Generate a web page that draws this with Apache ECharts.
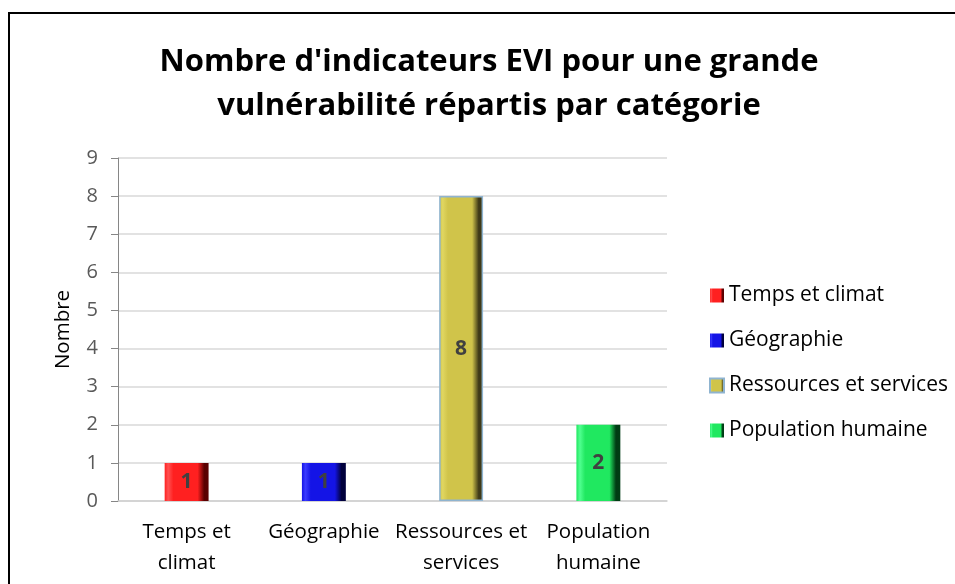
<!DOCTYPE html>
<html style="height: 100%">

<head>
    <meta charset="utf-8">
</head>

<body style="height: 100%; margin: 0; background: #fff">
    <div id="container" style="width: 955px; height: 584px"></div>
    <script src="https://cdn.jsdelivr.net/npm/echarts@6/dist/echarts.min.js"></script>
    <script type="text/javascript">
        // data
        var categories = ['Temps et\nclimat', 'Géographie', 'Ressources et\nservices', 'Population\nhumaine'];
        var seriesNames = ['Temps et climat', 'Géographie', 'Ressources et services', 'Population humaine'];
        var values = [1, 1, 8, 2];
        var yTicks = { min: 0, max: 9, interval: 1 };

        var FONT = 'Open Sans';

        // couleurs (clair, principal, sombre)
        var palettes = [
            ['#ff5050', '#ff2020', '#5a0000'],
            ['#3a3aff', '#1414e6', '#00003c'],
            ['#e0d660', '#d0c44a', '#3f3a18'],
            ['#50ff90', '#20e860', '#003c14']
        ];
        var borders = ['#ff4040', '#3030ff', '#8fb4d0', '#30e070'];

        function bevel(p) {
            return new echarts.graphic.LinearGradient(0, 0, 1, 0, [
                { offset: 0, color: p[1] },
                { offset: 0.08, color: p[0] },
                { offset: 0.2, color: p[1] },
                { offset: 0.75, color: p[1] },
                { offset: 0.9, color: p[2] },
                { offset: 1, color: p[2] }
            ]);
        }

        var series = [];
        for (var i = 0; i < values.length; i++) {
            var d = [];
            for (var j = 0; j < values.length; j++) {
                d.push(j === i ? values[i] : '-');
            }
            series.push({
                name: seriesNames[i],
                type: 'bar',
                stack: 'all',
                barWidth: '32%',
                data: d,
                itemStyle: {
                    color: bevel(palettes[i]),
                    borderColor: borders[i],
                    borderWidth: i === 2 ? 1.5 : 0
                },
                label: {
                    show: true,
                    position: 'inside',
                    fontFamily: FONT,
                    fontWeight: 'bold',
                    fontSize: 21,
                    color: '#404040'
                }
            });
        }

        var dom = document.getElementById("container");
        var myChart = echarts.init(dom);

        var option = {
            animation: false,
            color: palettes.map(function (p) { return p[1]; }),
            title: {
                text: "Nombre d'indicateurs EVI pour une grande\nvulnérabilité répartis par catégorie",
                left: 484,
                top: 35,
                textAlign: 'center',
                textStyle: {
                    fontFamily: FONT,
                    fontWeight: 'bold',
                    fontSize: 31,
                    lineHeight: 44,
                    color: '#000'
                }
            },
            legend: {
                orient: 'vertical',
                left: 704,
                top: 280,
                itemWidth: 14,
                itemHeight: 14,
                itemGap: 24,
                icon: 'rect',
                data: seriesNames,
                textStyle: {
                    fontFamily: FONT,
                    fontSize: 21,
                    color: '#000'
                }
            },
            grid: {
                left: 118,
                right: 288,
                top: 158,
                bottom: 83
            },
            xAxis: {
                type: 'category',
                data: categories,
                axisLine: { lineStyle: { color: '#d0d0d0', width: 1.5 } },
                axisTick: { show: false },
                axisLabel: {
                    interval: 0,
                    margin: 16,
                    fontFamily: FONT,
                    fontSize: 20.5,
                    lineHeight: 31,
                    color: '#000'
                }
            },
            yAxis: {
                type: 'value',
                min: yTicks.min,
                max: yTicks.max,
                interval: yTicks.interval,
                name: 'Nombre',
                nameLocation: 'middle',
                nameGap: 44,
                nameTextStyle: {
                    fontFamily: FONT,
                    fontSize: 20.5,
                    color: '#000'
                },
                axisLine: { show: true, lineStyle: { color: '#868686' } },
                axisTick: { show: true, length: 7, lineStyle: { color: '#868686' } },
                axisLabel: {
                    margin: 20,
                    fontFamily: FONT,
                    fontSize: 20,
                    color: '#595959'
                },
                splitLine: { lineStyle: { color: '#d9d9d9', width: 1.5 } }
            },
            graphic: [{
                type: 'rect',
                z: -10,
                shape: { x: 9, y: 13, width: 1000, height: 700 },
                style: { fill: 'none', stroke: '#000', lineWidth: 2 }
            }],
            series: series
        };

        myChart.setOption(option);
    </script>
</body>

</html>
